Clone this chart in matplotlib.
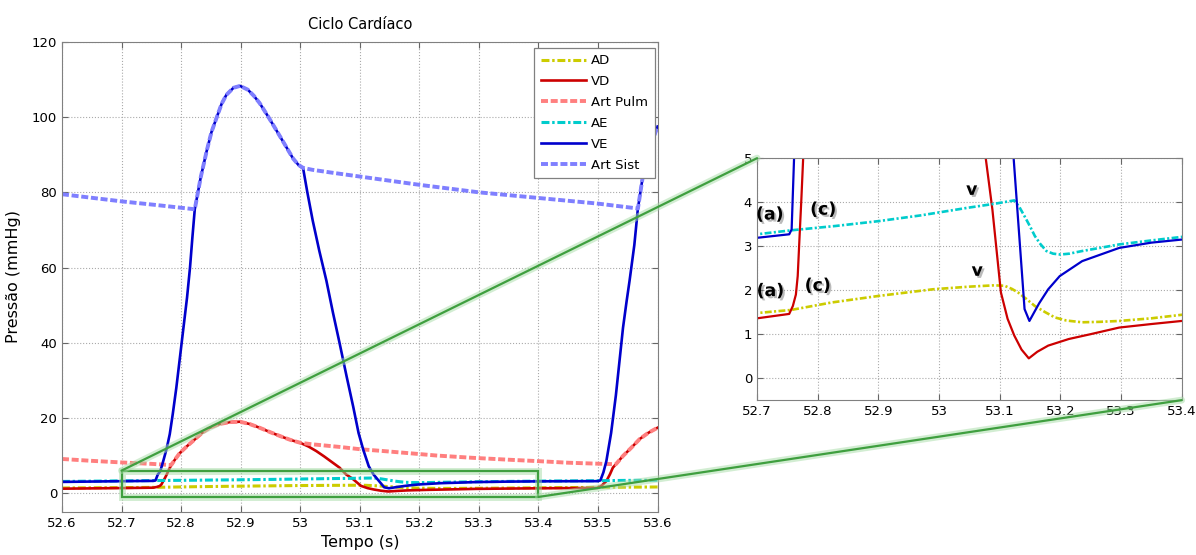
import numpy as np
import matplotlib
matplotlib.use("Agg")
import matplotlib.pyplot as plt
import matplotlib.patheffects as pe
from matplotlib.patches import Rectangle, ConnectionPatch

# Pressure traces over one cardiac cycle (time in s, pressure in mmHg)
t_ad = [52.6, 52.7, 52.756, 52.823, 52.901, 52.99, 53.05, 53.091, 53.108, 53.12, 53.13,
        53.144, 53.158, 53.175, 53.191, 53.21, 53.236, 53.265, 53.297, 53.35, 53.4, 53.5, 53.6]
p_ad = [1.38, 1.48, 1.55, 1.72, 1.87, 2.02, 2.08, 2.11, 2.10, 2.03, 1.95,
        1.80, 1.64, 1.50, 1.38, 1.31, 1.27, 1.28, 1.30, 1.36, 1.44, 1.55, 1.65]

t_vd = [52.6, 52.7, 52.753, 52.759, 52.764, 52.767, 52.770, 52.773, 52.776, 52.780, 52.784,
        52.79, 52.798, 52.81, 52.823, 52.835, 52.848, 52.865, 52.882, 52.899, 52.915, 52.932,
        52.95, 52.966, 52.983, 53.0, 53.014, 53.027, 53.04, 53.053, 53.066, 53.077, 53.088,
        53.102, 53.113, 53.124, 53.136, 53.148, 53.162, 53.18, 53.214, 53.25, 53.297, 53.35,
        53.4, 53.45, 53.5, 53.506, 53.514, 53.52, 53.525, 53.53, 53.536, 53.542, 53.556,
        53.57, 53.584, 53.6]
p_vd = [1.2, 1.36, 1.46, 1.64, 1.9, 2.32, 3.2, 4.06, 5.0, 6.4, 7.6,
        9.0, 10.7, 12.5, 14.3, 16.0, 17.4, 18.4, 18.9, 19.0, 18.4, 17.4,
        16.2, 15.2, 14.2, 13.4, 12.4, 11.2, 9.8, 8.3, 6.8, 5.0, 3.83,
        1.95, 1.35, 0.97, 0.65, 0.45, 0.6, 0.74, 0.89, 1.0, 1.15, 1.23,
        1.30, 1.35, 1.4, 2.0, 3.2, 5.0, 6.8, 7.7, 8.8, 9.9, 12.1,
        14.4, 16.0, 17.4]

t_ap = [52.6, 52.65, 52.709, 52.75, 52.781, 52.784, 52.79, 52.798, 52.81, 52.823, 52.835,
        52.848, 52.865, 52.882, 52.899, 52.915, 52.932, 52.95, 52.966, 52.983, 53.0, 53.02,
        53.04, 53.066, 53.1, 53.14, 53.178, 53.23, 53.29, 53.35, 53.402, 53.45, 53.508,
        53.53, 53.536, 53.542, 53.556, 53.57, 53.584, 53.6]
p_ap = [9.1, 8.6, 8.1, 7.8, 7.5, 7.6, 9.0, 10.7, 12.5, 14.3, 16.0,
        17.4, 18.4, 18.9, 19.0, 18.4, 17.4, 16.2, 15.2, 14.2, 13.4, 13.0,
        12.7, 12.3, 11.7, 11.2, 10.7, 10.0, 9.4, 8.9, 8.5, 8.1, 7.8,
        7.7, 8.8, 9.9, 12.1, 14.4, 16.0, 17.4]

t_ae = [52.6, 52.7, 52.756, 52.83, 52.901, 52.97, 53.046, 53.09, 53.124, 53.132, 53.141,
        53.15, 53.158, 53.167, 53.177, 53.188, 53.2, 53.215, 53.236, 53.265, 53.297, 53.35,
        53.4, 53.45, 53.5, 53.55, 53.6]
p_ae = [3.12, 3.27, 3.36, 3.46, 3.57, 3.70, 3.87, 3.96, 4.04, 3.90, 3.68,
        3.45, 3.23, 3.05, 2.89, 2.83, 2.81, 2.83, 2.89, 2.96, 3.04, 3.13,
        3.21, 3.27, 3.32, 3.40, 3.45]

t_ve = [52.6, 52.7, 52.753, 52.757, 52.761, 52.765, 52.770, 52.776, 52.781, 52.786, 52.792,
        52.798, 52.804, 52.810, 52.815, 52.819, 52.823, 52.833, 52.843, 52.851, 52.86, 52.868,
        52.876, 52.888, 52.899, 52.912, 52.922, 52.932, 52.946, 52.96, 52.975, 52.988, 52.997,
        53.005, 53.012, 53.021, 53.032, 53.044, 53.055, 53.066, 53.078, 53.089, 53.098, 53.106,
        53.115, 53.123, 53.141, 53.149, 53.165, 53.18, 53.199, 53.236, 53.297, 53.35, 53.4,
        53.45, 53.5, 53.504, 53.509, 53.514, 53.522, 53.53, 53.536, 53.542, 53.548, 53.553,
        53.561, 53.567, 53.575, 53.584, 53.592, 53.6]
p_ve = [3.0, 3.19, 3.27, 3.38, 5.0, 5.8, 8.5, 12.0, 15.7, 21.0, 28.0,
        36.0, 44.0, 52.0, 60.0, 68.0, 75.5, 84.0, 91.0, 96.0, 100.0, 103.5,
        105.9, 107.8, 108.3, 107.3, 105.7, 103.7, 100.2, 96.5, 92.5, 89.0, 87.3,
        86.3, 80.0, 72.5, 64.5, 56.5, 48.0, 40.0, 31.0, 23.0, 16.0, 11.5,
        7.2, 5.0, 1.57, 1.30, 1.70, 2.02, 2.32, 2.66, 2.96, 3.08, 3.15,
        3.18, 3.2, 3.4, 5.5, 8.5, 16.0, 26.0, 35.0, 44.0, 51.0, 56.5,
        66.0, 75.7, 84.0, 90.0, 94.0, 97.5]

t_as = [52.6, 52.7, 52.76, 52.823, 52.833, 52.843, 52.851, 52.86, 52.868, 52.876, 52.888,
        52.899, 52.912, 52.922, 52.932, 52.946, 52.96, 52.975, 52.988, 52.997, 53.005, 53.02,
        53.05, 53.1, 53.2, 53.3, 53.4, 53.5, 53.567, 53.575, 53.584, 53.592, 53.6]
p_as = [79.5, 77.6, 76.6, 75.5, 84.0, 91.0, 96.0, 100.0, 103.5, 105.9, 107.8,
        108.3, 107.3, 105.7, 103.7, 100.2, 96.5, 92.5, 89.0, 87.3, 86.5, 86.0,
        85.3, 84.2, 82.0, 80.0, 78.5, 77.0, 75.7, 84.0, 90.0, 94.0, 97.5]

# Wave labels for the atrial traces in the zoomed panel
wave_text = ["(a)", "(c)", "v", "(a)", "(c)", "v"]
wave_t = [52.721, 52.809, 53.054, 52.722, 52.800, 53.063]
wave_p = [3.72, 3.83, 4.28, 1.98, 2.10, 2.44]

series = [
    ("AD", t_ad, p_ad, "#cccc00", "dashdot"),
    ("VD", t_vd, p_vd, "#cc0000", "solid"),
    ("Art Pulm", t_ap, p_ap, "#ff7f7f", "dashed"),
    ("AE", t_ae, p_ae, "#00cccc", "dashdot"),
    ("VE", t_ve, p_ve, "#0000cc", "solid"),
    ("Art Sist", t_as, p_as, "#7f7fff", "dashed"),
]

plt.rcParams['font.family'] = ['DejaVu Sans']
green = "#3f9f3f"
glow = [pe.Stroke(linewidth=5, foreground="#a6dca6", alpha=0.5), pe.Normal()]


def style_axes(ax):
    ax.grid(True, linestyle=":", color="#aaaaaa", linewidth=0.8)
    ax.tick_params(direction="in", top=True, right=True, length=4,
                   labelsize=9.5, color="#666666")
    for s in ax.spines.values():
        s.set_color("#808080")


def draw_series(ax, lw):
    for name, t, p, c, ls in series:
        if ls == "dashed":
            ax.plot(t, p, color=c, lw=lw + 0.9, dashes=(1.8, 0.7), label=name)
        elif ls == "dashdot":
            ax.plot(t, p, color=c, lw=lw + 0.3, dashes=(2.6, 0.9, 0.8, 0.9), label=name)
        else:
            ax.plot(t, p, color=c, lw=lw, label=name)


fig = plt.figure(figsize=(11.96, 5.55), dpi=100)
ax = fig.add_axes([0.0518, 0.0775, 0.498, 0.847])
draw_series(ax, 1.9)
style_axes(ax)
ax.set_xlim(52.6, 53.6)
ax.set_ylim(-5, 120)
ax.set_xticks(np.round(np.arange(52.6, 53.61, 0.1), 1))
ax.set_xticklabels(["52.6", "52.7", "52.8", "52.9", "53", "53.1", "53.2",
                    "53.3", "53.4", "53.5", "53.6"])
ax.set_yticks([0, 20, 40, 60, 80, 100, 120])
ax.set_xlabel("Tempo (s)", fontsize=11.5, labelpad=4)
ax.set_ylabel("Pressão (mmHg)", fontsize=11.5, labelpad=8)
ax.set_title("Ciclo Cardíaco", fontsize=10.5, pad=9)
leg = ax.legend(loc="upper right", bbox_to_anchor=(0.995, 0.988), borderaxespad=0,
                fontsize=9.5, handlelength=3.4, labelspacing=0.6, handletextpad=0.4,
                borderpad=0.5, fancybox=False, framealpha=1)
leg.get_frame().set_edgecolor("#808080")
leg.get_frame().set_linewidth(0.9)

# zoom window on the low-pressure part of the cycle
ax.add_patch(Rectangle((52.7, -1), 0.7, 7, fill=False, ec=green, lw=1.6,
                       path_effects=glow, zorder=5))

axin = fig.add_axes([0.633, 0.279, 0.355, 0.436])
draw_series(axin, 1.6)
style_axes(axin)
axin.set_xlim(52.7, 53.4)
axin.set_ylim(-0.5, 5)
axin.set_xticks(np.round(np.arange(52.7, 53.41, 0.1), 1))
axin.set_xticklabels(["52.7", "52.8", "52.9", "53", "53.1", "53.2", "53.3", "53.4"])
axin.set_yticks([0, 1, 2, 3, 4, 5])

shadow = [pe.withSimplePatchShadow(offset=(1.5, -1.5), shadow_rgbFace="#777777", alpha=0.5)]
for txt, tx, py in zip(wave_text, wave_t, wave_p):
    axin.text(tx, py, txt, fontsize=12.5, fontweight="bold", ha="center", va="center",
              path_effects=shadow)

for (xa, ya), (xb, yb) in [((52.7, 6), (52.7, 5)), ((53.4, -1), (53.4, -0.5))]:
    con = ConnectionPatch(xyA=(xa, ya), coordsA=ax.transData,
                          xyB=(xb, yb), coordsB=axin.transData,
                          color=green, lw=1.6, path_effects=glow, zorder=10)
    fig.add_artist(con)

fig.savefig("out.png", dpi=100)
